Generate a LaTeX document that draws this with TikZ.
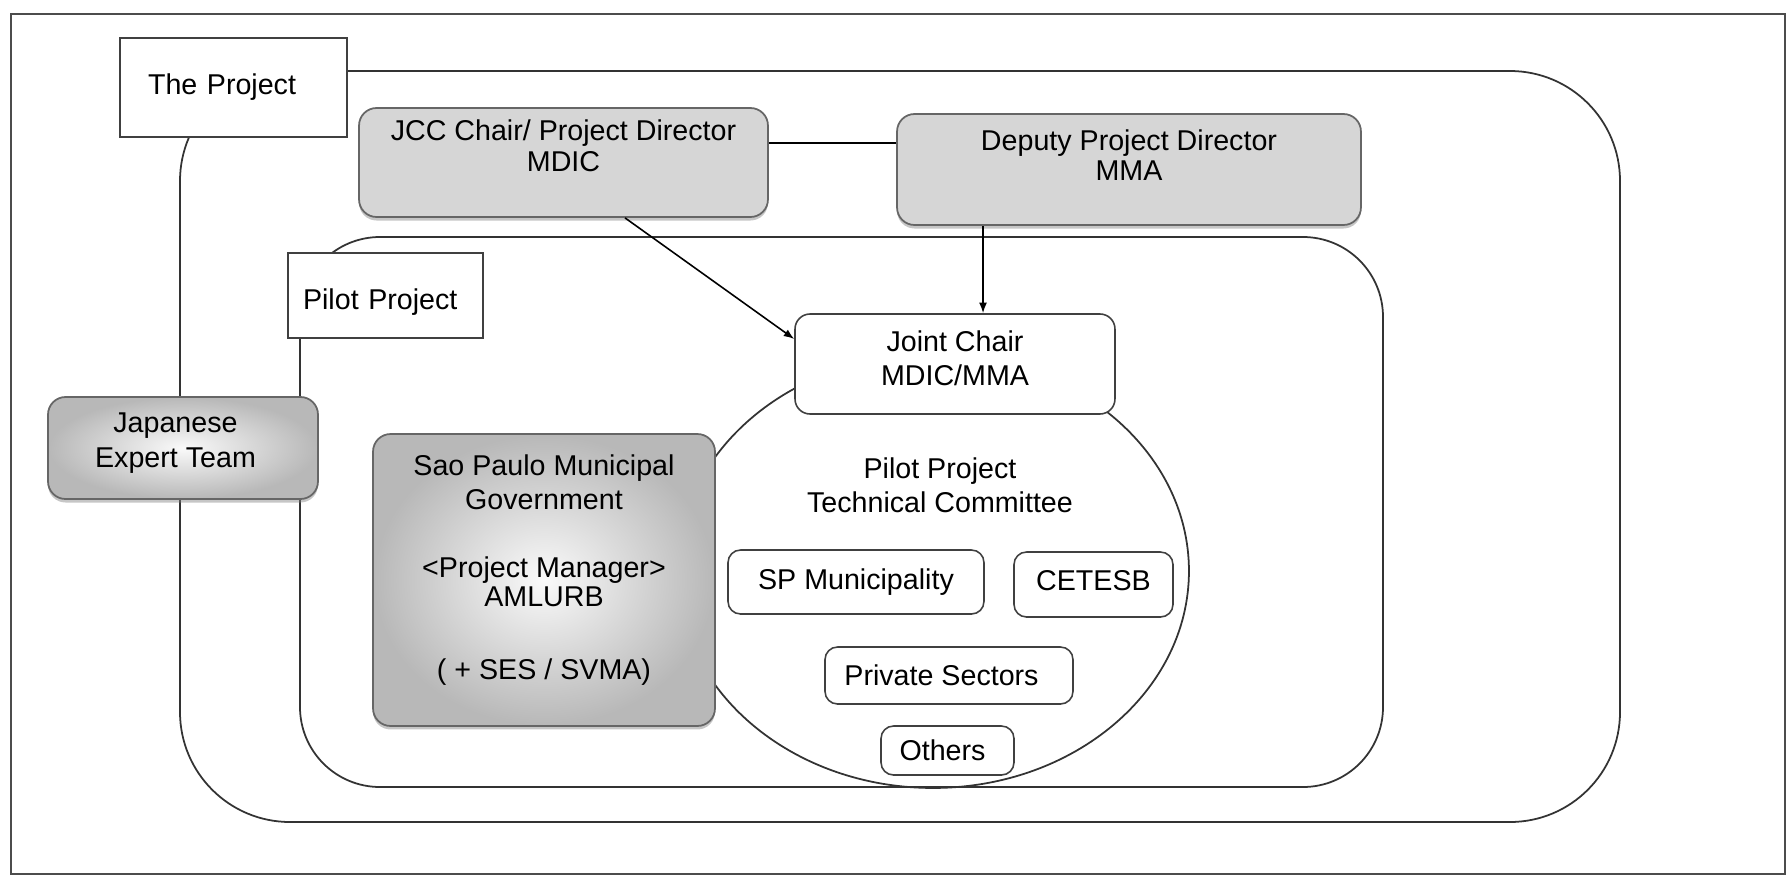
\documentclass[tikz,border=0pt]{standalone}
\usepackage{fontspec}
\setmainfont{Liberation Sans}
\usetikzlibrary{shapes,arrows,arrows.meta,positioning,shadows}

\begin{document}
\begin{tikzpicture}[
    x=0.02cm, y=-0.02cm,
    font=\fontsize{16.3}{19.5}\selectfont,
    tag/.style={
        rectangle,
        draw=black!75,
        fill=white,
        line width=1pt,
        align=left
    },
    greybox/.style={
        rectangle,
        rounded corners=0.35cm,
        draw=black!60,
        fill=black!16,
        line width=1pt,
        align=center,
        drop shadow={shadow xshift=0pt, shadow yshift=-2pt, opacity=0.45}
    },
    shadebox/.style={
        rectangle,
        rounded corners=0.35cm,
        draw=black!60,
        inner color=black!2,
        outer color=black!28,
        line width=1pt,
        align=center,
        drop shadow={shadow xshift=0pt, shadow yshift=-2pt, opacity=0.45}
    },
    member/.style={
        rectangle,
        rounded corners=0.25cm,
        draw=black!75,
        fill=white,
        line width=0.9pt,
        align=center
    },
    region/.style={draw=black!80, line width=1pt},
    >={Latex[length=6pt, width=4.5pt]}
]
    \useasboundingbox (0,0) rectangle (1789,886);

    % Frame and nested regions
    \draw[black!70, line width=1.5pt] (11,14) rectangle (1785,874);
    \draw[region, rounded corners=2.2cm] (180,71) rectangle (1620,822);
    \draw[region, rounded corners=1.6cm] (300,237) rectangle (1383,787);
    \node[ellipse, region, minimum width=10.24cm, minimum height=8.68cm] (tc) at (933,571) {};

    % Define nodes
    \node[tag, minimum width=4.54cm, minimum height=1.98cm, text width=3.42cm, inner xsep=0.56cm] (theproject) at (233.5,87.5) {The Project};
    \node[greybox, minimum width=8.18cm, minimum height=2.18cm, text depth=19pt] (jcc) at (563.5,162.5)
        {JCC Chair/ Project Director\\[-2pt]MDIC};
    \node[greybox, minimum width=9.28cm, minimum height=2.22cm, text depth=16.5pt] (deputy) at (1129,169.5)
        {Deputy Project Director\\[-2pt]MMA};
    \node[tag, minimum width=3.9cm, minimum height=1.7cm, text width=3.3cm, inner xsep=0.3cm, text height=16pt, text depth=0pt] (pilot) at (385.5,295.5) {Pilot Project};
    \node[shadebox, minimum width=5.4cm, minimum height=2.04cm, text depth=9pt] (japan) at (183,448)
        {Japanese\hspace*{0.3cm}\\Expert Team\hspace*{0.3cm}};
    \node[shadebox, minimum width=6.84cm, minimum height=5.84cm, text depth=15pt] (saopaulo) at (544,580)
        {Sao Paulo Municipal\\Government\\[19pt]<Project Manager>\\[-3pt]AMLURB\\[22pt]( + SES / SVMA)};
    \node[member, rounded corners=0.3cm, minimum width=6.4cm, minimum height=2cm, text depth=7pt] (jointchair) at (955,364)
        {Joint Chair\\MDIC/MMA};
    \node[align=center] (tclabel) at (940,485) {Pilot Project\\Technical Committee};
    \node[member, minimum width=5.12cm, minimum height=1.28cm] (spmun) at (856,582) {SP Municipality};
    \node[member, minimum width=3.18cm, minimum height=1.3cm, text depth=4pt] (cetesb) at (1093.5,584.5) {CETESB};
    \node[member, minimum width=4.96cm, minimum height=1.14cm] (private) at (949,675.5) {Private Sectors\hspace*{0.3cm}};
    \node[member, minimum width=2.66cm, minimum height=0.98cm] (others) at (947.5,750.5) {Others\hspace*{0.2cm}};

    % Connectors
    \draw[line width=0.9pt] ([yshift=0.39cm]jcc.east) -- ([yshift=0.39cm]jcc.east -| deputy.west);
    \draw[->, line width=0.9pt] ([xshift=1.23cm]jcc.south) -- ([yshift=0.5cm]jointchair.west);
    \draw[->, line width=0.9pt] ([xshift=-2.92cm]deputy.south) -- ([xshift=-2.92cm]deputy.south |- jointchair.north);
\end{tikzpicture}
\end{document}
